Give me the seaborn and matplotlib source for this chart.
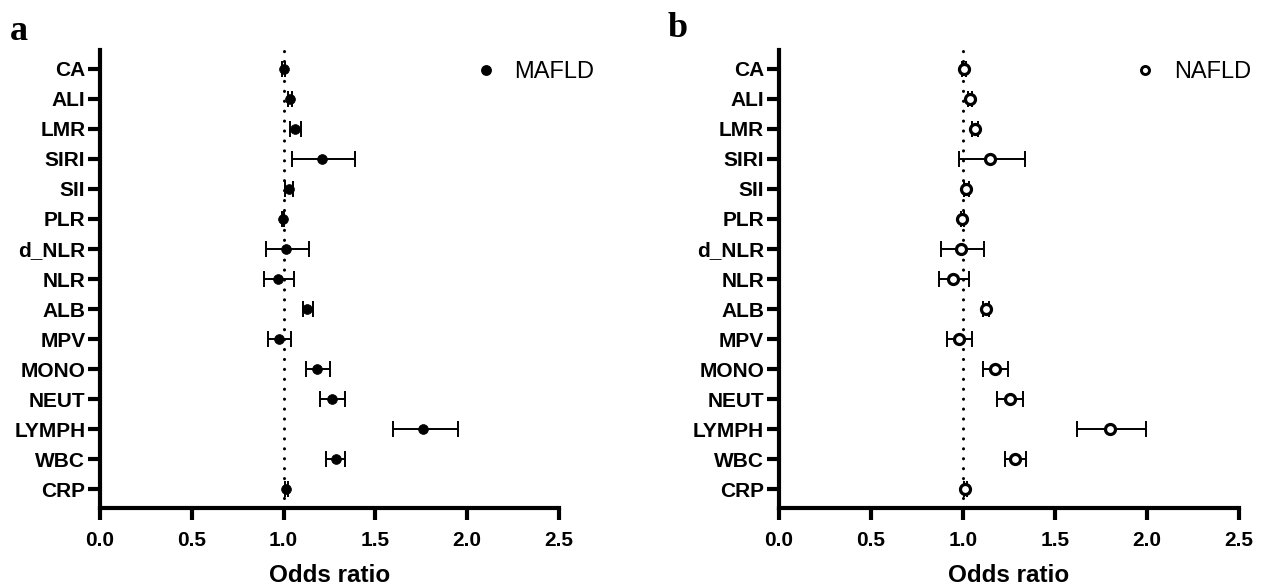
import numpy as np
import pandas as pd
import matplotlib
matplotlib.use("Agg")
import matplotlib.pyplot as plt
import seaborn as sns

categories = ["CA", "ALI", "LMR", "SIRI", "SII", "PLR", "d_NLR", "NLR",
              "ALB", "MPV", "MONO", "NEUT", "LYMPH", "WBC", "CRP"]

mafld_or = [1.00, 1.035, 1.063, 1.208, 1.027, 0.997, 1.015, 0.970,
            1.130, 0.977, 1.182, 1.264, 1.760, 1.283, 1.015]
mafld_lo = [0.99, 1.025, 1.033, 1.046, 1.005, 0.990, 0.906, 0.894,
            1.105, 0.913, 1.120, 1.198, 1.597, 1.230, 1.005]
mafld_hi = [1.01, 1.045, 1.095, 1.391, 1.050, 1.004, 1.137, 1.055,
            1.158, 1.042, 1.253, 1.333, 1.948, 1.337, 1.025]

nafld_or = [1.005, 1.040, 1.068, 1.148, 1.020, 0.996, 0.990, 0.947,
            1.125, 0.977, 1.175, 1.259, 1.797, 1.283, 1.013]
nafld_lo = [0.995, 1.030, 1.050, 0.980, 1.005, 0.988, 0.880, 0.870,
            1.110, 0.913, 1.110, 1.188, 1.620, 1.228, 1.005]
nafld_hi = [1.015, 1.050, 1.085, 1.339, 1.035, 1.004, 1.116, 1.035,
            1.140, 1.052, 1.246, 1.329, 1.995, 1.342, 1.021]

x_ticks = [0.0, 0.5, 1.0, 1.5, 2.0, 2.5]
x_label = "Odds ratio"

sns.set_theme(style="ticks")
plt.rcParams['font.family'] = ['Liberation Sans', 'DejaVu Sans']
plt.rcParams.update({
    "text.color": "black", "axes.labelcolor": "black",
    "xtick.color": "black", "ytick.color": "black",
    "axes.edgecolor": "black",
})

fig = plt.figure(figsize=(12.61, 5.88), dpi=100)
ax_a = fig.add_axes([0.0793, 0.136, 0.364, 0.779])
ax_b = fig.add_axes([0.6175, 0.136, 0.365, 0.779])


def draw(ax, name, orv, lo, hi, filled, leg_x):
    df = pd.DataFrame({"cat": categories, "or": orv, "lo": lo, "hi": hi,
                       "group": name})
    ypos = np.arange(len(categories))
    df["y"] = ypos
    ax.axvline(1.0, color="black", linestyle=(0, (0.05, 3.2)), lw=2.2,
               dash_capstyle="round", zorder=1)
    ax.errorbar(df["or"], ypos,
                xerr=[df["or"] - df["lo"], df["hi"] - df["or"]],
                fmt="none", ecolor="black", elinewidth=1.4, capsize=5.5,
                capthick=1.4, zorder=2)
    if filled:
        sns.scatterplot(data=df, x="or", y="y", ax=ax, color="black",
                        s=50, marker="o", edgecolor="black", linewidth=0.5,
                        zorder=3, legend=False)
    else:
        sns.scatterplot(data=df, x="or", y="y", ax=ax, facecolor="white",
                        s=52, marker="o", edgecolor="black", linewidth=2.3,
                        zorder=3, legend=False)
    ax.set_ylim(len(categories) - 1 + 0.62, -0.62)
    ax.set_xlim(0, 2.5)
    ax.set_yticks(ypos)
    ax.set_yticklabels(categories, fontsize=15, fontweight="bold")
    ax.set_xticks(x_ticks)
    ax.set_xticklabels([f"{t:.1f}" for t in x_ticks], fontsize=15,
                       fontweight="bold")
    ax.set_xlabel(x_label, fontsize=17.5, fontweight="bold", labelpad=10)
    ax.set_ylabel("")
    sns.despine(ax=ax)
    for s in ["left", "bottom"]:
        ax.spines[s].set_linewidth(3)
    ax.tick_params(axis="both", width=3, length=8.5, color="black")
    ax.tick_params(axis="x", pad=8)
    ax.tick_params(axis="y", pad=2)
    if filled:
        h = plt.Line2D([], [], marker="o", color="black", ls="none",
                       markersize=6.8)
    else:
        h = plt.Line2D([], [], marker="o", color="black", ls="none",
                       markersize=5.8, markerfacecolor="white",
                       markeredgewidth=2.1)
    ax.legend([h], [name], loc="upper right", frameon=False, fontsize=17,
              handletextpad=0.6, handlelength=1.2,
              bbox_to_anchor=(leg_x, 1.012), borderaxespad=0.3)


draw(ax_a, "MAFLD", mafld_or, mafld_lo, mafld_hi, True, 1.112)
draw(ax_b, "NAFLD", nafld_or, nafld_lo, nafld_hi, False, 1.062)

fig.text(0.008, 0.975, "a", fontsize=26, fontweight="bold",
         family="Liberation Serif", va="top", ha="left")
fig.text(0.529, 0.98, "b", fontsize=26, fontweight="bold",
         family="Liberation Serif", va="top", ha="left")

fig.savefig("out.png", dpi=100)
